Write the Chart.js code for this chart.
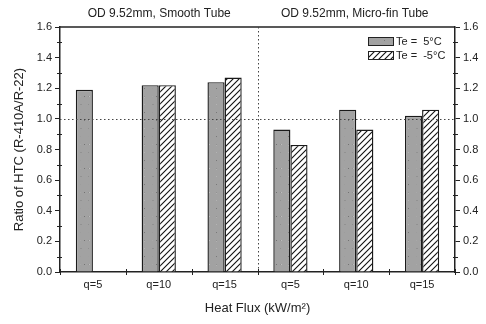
<!DOCTYPE html>
<html><head><meta charset="utf-8">
<script src="https://cdn.jsdelivr.net/npm/chart.js@4.4.1/dist/chart.umd.min.js"></script>
<style>html,body{margin:0;padding:0;background:#fff}#wrap{width:486px;height:324px}</style>
</head><body><div id="wrap"><canvas id="c" width="486" height="324"></canvas></div>
<script>
const categories = ['q=5','q=10','q=15','q=5','q=10','q=15'];
const te5 = [1.19, 1.22, 1.24, 0.93, 1.06, 1.02];
const teMinus5 = [null, 1.22, 1.27, 0.83, 0.93, 1.06];
const seriesNames = ['Te =  5\u00B0C', 'Te =  -5\u00B0C'];
const panelTitles = ['OD 9.52mm, Smooth Tube', 'OD 9.52mm, Micro-fin Tube'];
const yMin = 0, yMax = 1.6, yStep = 0.2, yMinor = 0.1, refLine = 1.0;
const xTitle = 'Heat Flux (kW/m\u00B2)';
const yTitle = 'Ratio of HTC (R-410A/R-22)';

const FONT = "'Liberation Sans', Arial, sans-serif";
const INK = '#222';

function speckle() {
  const c = document.createElement('canvas'); c.width = 24; c.height = 24;
  const x = c.getContext('2d');
  x.fillStyle = '#a2a2a2'; x.fillRect(0,0,24,24);
  let s = 7;
  for (let i = 0; i < 160; i++) {
    s = (s * 1103515245 + 12345) & 0x7fffffff;
    const px = s % 24; s = (s * 1103515245 + 12345) & 0x7fffffff;
    const py = s % 24; s = (s * 1103515245 + 12345) & 0x7fffffff;
    const g = 115 + (s % 95);
    x.fillStyle = `rgb(${g},${g},${g})`; x.fillRect(px, py, 1, 1);
  }
  return x.createPattern(c, 'repeat');
}
function hatch() {
  const c = document.createElement('canvas'); c.width = 6; c.height = 6;
  const x = c.getContext('2d');
  x.fillStyle = '#fff'; x.fillRect(0,0,6,6);
  x.strokeStyle = '#111'; x.lineWidth = 1.1;
  x.beginPath();
  x.moveTo(-1,7); x.lineTo(7,-1);
  x.moveTo(-4,4); x.lineTo(4,-4);
  x.moveTo(2,10); x.lineTo(10,2);
  x.stroke();
  return x.createPattern(c, 'repeat');
}
const fillA = speckle(), fillB = hatch();

const deco = {
  id: 'deco',
  afterDatasetsDraw(chart) {
    const {ctx, chartArea: a, scales} = chart;
    const y = scales.y, xs = scales.x;
    ctx.save();
    ctx.strokeStyle = INK; ctx.lineWidth = 1.5;
    ctx.beginPath(); ctx.moveTo(a.left, a.top); ctx.lineTo(a.right, a.top); ctx.stroke();
    ctx.lineWidth = 1; ctx.setLineDash([1.5, 2.5]); ctx.strokeStyle = '#444';
    const yr = Math.round(y.getPixelForValue(refLine)) + 0.5;
    ctx.beginPath(); ctx.moveTo(a.left, yr); ctx.lineTo(a.right, yr); ctx.stroke();
    const xd = Math.round((xs.getPixelForValue(2) + xs.getPixelForValue(3)) / 2) + 0.5;
    ctx.beginPath(); ctx.moveTo(xd, a.top); ctx.lineTo(xd, a.bottom); ctx.stroke();
    ctx.setLineDash([]);
    ctx.strokeStyle = INK; ctx.lineWidth = 1;
    for (let v = yMin + yMinor; v < yMax; v += yMinor * 2) {
      const py = Math.round(y.getPixelForValue(v)) + 0.5;
      ctx.beginPath(); ctx.moveTo(a.left - 3, py); ctx.lineTo(a.left + 2, py); ctx.stroke();
      ctx.beginPath(); ctx.moveTo(a.right - 2, py); ctx.lineTo(a.right + 3, py); ctx.stroke();
    }
    for (let i = 0; i <= categories.length; i++) {
      const px = Math.round(a.left + (a.right - a.left) * i / categories.length) + 0.5;
      ctx.beginPath(); ctx.moveTo(px, a.bottom - 3); ctx.lineTo(px, a.bottom + 3); ctx.stroke();
    }
    ctx.fillStyle = INK; ctx.font = `12px ${FONT}`; ctx.textAlign = 'center'; ctx.textBaseline = 'middle';
    ctx.fillText(panelTitles[0], (a.left + xd) / 2, 14);
    ctx.fillText(panelTitles[1], (xd + a.right) / 2 - 2, 14);
    const lx = 368, ly = [37, 51], bw = 25, bh = 8;
    [fillA, fillB].forEach((f, i) => {
      ctx.fillStyle = f; ctx.fillRect(lx, ly[i], bw, bh);
      ctx.strokeStyle = INK; ctx.lineWidth = 1; ctx.strokeRect(lx + 0.5, ly[i] + 0.5, bw, bh);
      ctx.fillStyle = INK; ctx.font = `11px ${FONT}`; ctx.textAlign = 'left';
      ctx.fillText(seriesNames[i], lx + bw + 3, ly[i] + bh / 2 + 1);
    });
    ctx.restore();
  }
};

new Chart(document.getElementById('c'), {
  type: 'bar',
  data: {
    labels: categories,
    datasets: [
      { label: seriesNames[0], data: te5, backgroundColor: fillA, borderColor: '#1a1a1a', borderWidth: 1.4, yAxisID: 'y' },
      { label: seriesNames[1], data: teMinus5, backgroundColor: fillB, borderColor: '#1a1a1a', borderWidth: 1.4, yAxisID: 'y' }
    ]
  },
  options: {
    responsive: false, animation: false,
    layout: { padding: { top: 27, left: 0, right: 0, bottom: 0 } },
    plugins: { legend: { display: false }, tooltip: { enabled: false } },
    datasets: { bar: { categoryPercentage: 0.52, barPercentage: 1.0 } },
    scales: {
      x: {
        grid: { display: false, tickLength: 4 },
        border: { display: true, color: INK, width: 1.5 },
        ticks: { color: INK, font: { family: FONT, size: 11 }, padding: 2, maxRotation: 0 },
        title: { display: true, text: xTitle, color: INK, font: { family: FONT, size: 13 }, padding: { top: 0, bottom: 8 } },
        afterFit: s => { s.height = 52; }
      },
      y: {
        position: 'left', min: yMin, max: yMax,
        ticks: { stepSize: yStep, color: INK, font: { family: FONT, size: 11 }, padding: 3, callback: v => v.toFixed(1) },
        grid: { display: true, drawOnChartArea: false, drawTicks: true, tickLength: 5, color: INK, lineWidth: 1 },
        border: { display: true, color: INK, width: 1.5 },
        title: { display: true, text: yTitle, color: INK, font: { family: FONT, size: 13 }, padding: { top: 12, bottom: 0 } },
        afterFit: s => { s.width = 60; }
      },
      y2: {
        position: 'right', min: yMin, max: yMax,
        ticks: { stepSize: yStep, color: INK, font: { family: FONT, size: 11 }, padding: 3, callback: v => v.toFixed(1) },
        grid: { display: true, drawOnChartArea: false, drawTicks: true, tickLength: 5, color: INK, lineWidth: 1 },
        border: { display: true, color: INK, width: 1.5 },
        afterFit: s => { s.width = 31; }
      }
    }
  },
  plugins: [deco]
});
</script></body></html>
